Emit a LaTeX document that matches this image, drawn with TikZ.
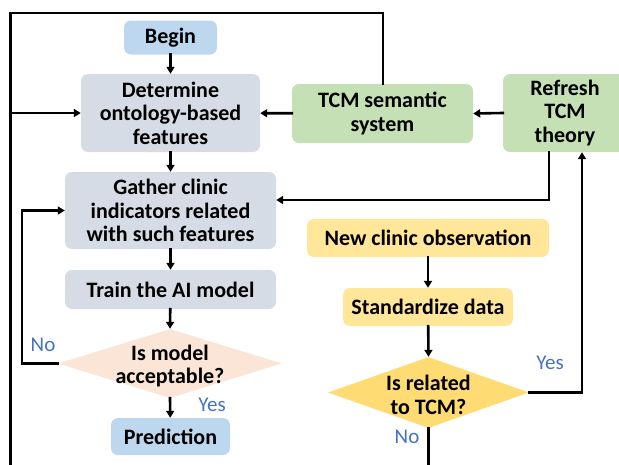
\documentclass[tikz,border=0pt]{standalone}
\usepackage{fontspec}
\setmainfont{Carlito}
\usetikzlibrary{shapes.geometric,arrows.meta,calc}
\definecolor{cblue}{HTML}{BDD7EE}
\definecolor{cgray}{HTML}{D6DCE5}
\definecolor{cpeach}{HTML}{FBE5D6}
\definecolor{cgreen}{HTML}{C5E0B4}
\definecolor{cyellow}{HTML}{FFE699}
\definecolor{cyellowd}{HTML}{FFDC73}
\definecolor{clabel}{HTML}{4472C4}
\tikzset{
  box/.style={draw=none, rounded corners=7pt, inner sep=0pt, align=center,
    font=\fontsize{22}{23.5}\selectfont\bfseries},
  dia/.style={draw=none, diamond, inner sep=0pt, shape aspect=1},
  txt/.style={inner sep=0pt, align=center, font=\fontsize{22}{23.5}\selectfont\bfseries},
  lbl/.style={inner sep=0pt, text=clabel, font=\fontsize{21}{23}\selectfont},
  conn/.style={line width=2.6pt, line cap=rect},
  arr/.style={conn, -{Triangle[length=7pt,width=8pt]}}
}
\begin{document}
\begin{tikzpicture}[x=1pt,y=-1pt]
\useasboundingbox (0,0) rectangle (619,464);
\begin{scope}
\clip (0,0) rectangle (619,464);
% left column
\node[box, fill=cblue, minimum width=93pt, minimum height=34pt] (begin) at (170.5,37.5) {Begin};
\node[box, fill=cgray, minimum width=179pt, minimum height=78pt] (det) at (170.5,113) {Determine\\ontology-based\\features};
\node[box, fill=cgray, minimum width=211pt, minimum height=77pt] (gat) at (170.5,210.5) {Gather clinic\\indicators related\\with such features};
\node[box, fill=cgray, minimum width=211pt, minimum height=39pt] (train) at (170.5,289.5) {Train the AI model};
\node[dia, fill=cpeach, minimum width=224pt, minimum height=69pt] (mdl) at (170,363.5) {};
\node[txt] (mdlt) at (170,366) {Is model\\acceptable?};
\node[box, fill=cblue, minimum width=119pt, minimum height=37pt] (pred) at (170.5,436.5) {Prediction};
% right part
\node[box, fill=cgreen, minimum width=181pt, minimum height=59pt] (sem) at (382.5,113.5) {TCM semantic\\system};
\node[box, fill=cgreen, minimum width=124pt, minimum height=78pt, text width=110pt] (ref) at (565,113) {Refresh\\TCM\\theory};
\node[box, fill=cyellow, minimum width=242pt, minimum height=38pt] (obs) at (428,238) {New clinic observation};
\node[box, fill=cyellow, minimum width=170pt, minimum height=38pt] (std) at (428,307) {Standardize data};
\node[dia, fill=cyellowd, minimum width=201pt, minimum height=71pt] (rel) at (428.5,392.5) {};
\node[txt] (relt) at (428.5,395) {Is related\\to TCM?};
% coordinates
\coordinate (tr) at (383,13);
\coordinate (tl) at (10.5,13);
\coordinate (bl) at (10.5,470);
\coordinate (lb) at (10.5,113);
\coordinate (nol) at (22,363.5);
\coordinate (relb) at (428.5,470);
% connectors
\draw[arr] (begin) -- (det);
\draw[arr] (det) -- (gat);
\draw[arr] (gat) -- (train);
\draw[arr] (train) -- (mdl.north);
\draw[arr] (mdl.south) -- (pred);
\draw[arr] (mdl.west) -- (nol) |- (gat.west);
\draw[arr] (sem) -- (det);
\draw[arr] (ref.west) -- (sem.east);
\draw[conn] (sem.north -| tr) -- (tr) -- (tl) -- (bl);
\draw[arr] (lb) -- (det.west);
\draw[arr] ([xshift=-16pt]ref.south) |- ([yshift=10.5pt]gat.east);
\draw[arr] (rel.east) -| ([xshift=17pt]ref.south);
\draw[arr] (obs) -- (std);
\draw[arr] (std) -- (rel.north);
\draw[conn] (rel.south) -- (relb);
% labels
\node[lbl] (no1) at (43,345) {No};
\node[lbl] (yes1) at (212,405) {Yes};
\node[lbl] (yes2) at (550,363) {Yes};
\node[lbl] (no2) at (407,437) {No};
\end{scope}
\end{tikzpicture}
\end{document}
